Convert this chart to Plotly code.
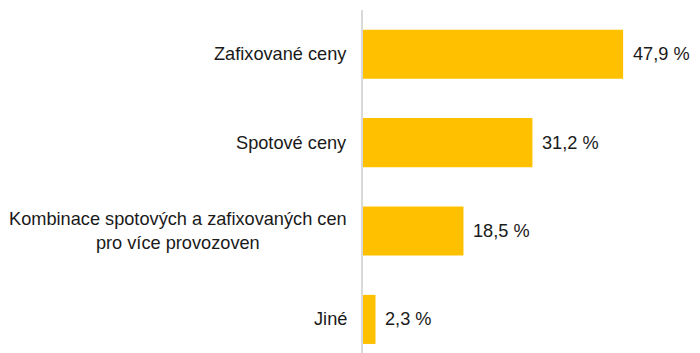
import plotly.graph_objects as go

categories = ["Zafixované ceny", "Spotové ceny",
              "Kombinace spotových a zafixovaných cen<br>pro více provozoven", "Jiné"]
values = [47.9, 31.2, 18.5, 2.3]
value_labels = ["47,9 %", "31,2 %", "18,5 %", "2,3 %"]

FONT = "Liberation Sans, Arial, sans-serif"
FS = 18.2

fig = go.Figure(go.Bar(
    y=categories, x=values, orientation="h",
    marker=dict(color="#FFC000", line=dict(width=0)),
    width=0.555, hoverinfo="skip",
))

annotations = []
for c, v, t in zip(categories, values, value_labels):
    annotations.append(dict(x=v, y=c, xref="x", yref="y", text=t, showarrow=False,
                            xanchor="left", xshift=8, font=dict(family=FONT, size=FS, color="#1a1a1a")))
    annotations.append(dict(x=0, y=c, xref="paper", yref="y", text=c, showarrow=False,
                            xanchor="right", align="center", xshift=-14,
                            font=dict(family=FONT, size=FS, color="#1a1a1a")))

fig.update_layout(
    width=700, height=353,
    margin=dict(l=363, r=0, t=10, b=0),
    paper_bgcolor="white", plot_bgcolor="white",
    showlegend=False,
    annotations=annotations,
    xaxis=dict(range=[0, 62.06], showgrid=False, zeroline=False, showticklabels=False,
               showline=False),
    yaxis=dict(categoryorder="array", categoryarray=categories, range=[3.38, -0.5],
               showticklabels=False, showgrid=False, zeroline=False,
               showline=True, linecolor="#D9D9D9", linewidth=1.5),
)

fig.write_html("out.html")
